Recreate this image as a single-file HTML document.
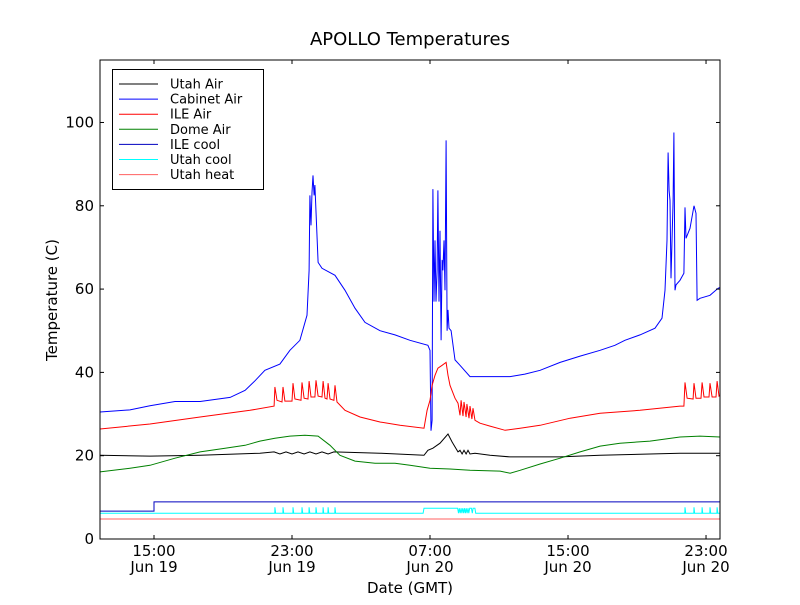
<!DOCTYPE html>
<html><head><meta charset="utf-8"><style>
body{margin:0;background:#fff;width:800px;height:600px;overflow:hidden}
svg{font-family:"DejaVu Sans","Liberation Sans",sans-serif}
</style></head><body>
<svg id="chart" width="800" height="600" xmlns="http://www.w3.org/2000/svg">
<rect width="800" height="600" fill="#fff"/>
<text x="410" y="45" font-size="18" text-anchor="middle">APOLLO Temperatures</text>
<text x="410" y="593" font-size="15" text-anchor="middle">Date (GMT)</text>
<text transform="translate(57,300) rotate(-90)" font-size="15" text-anchor="middle">Temperature (C)</text>
<defs><clipPath id="clip"><rect x="100" y="60" width="620" height="479"/></clipPath></defs>
<g id="series" clip-path="url(#clip)"></g>
<g id="axes"></g>
<g id="legend"></g>
</svg>
<script>
const xTickT=[0,8,16,24,32];
const xTickTop=["15:00","23:00","07:00","15:00","23:00"];
const xTickBottom=["Jun 19","Jun 19","Jun 20","Jun 20","Jun 20"];
const yTicks=[0,20,40,60,80,100];
const cabT=[-3.13,-1.39,-0.23,1.22,2.67,4.41,5.28,5.86,6.43,7.3,7.88,8.46,8.87,8.99,9.04,9.1,9.16,9.22,9.28,9.33,9.51,9.74,10.49,11.07,11.65,12.23,13.1,13.97,14.84,15.88,16,16.06,16.12,16.17,16.23,16.29,16.35,16.41,16.46,16.52,16.58,16.64,16.7,16.75,16.81,16.87,16.93,16.99,17.04,17.1,17.22,17.45,17.74,18.32,19.48,20.64,21.5,22.38,23.54,24.7,25.86,26.72,27.3,28.17,29.04,29.45,29.62,29.74,29.8,29.86,29.91,29.97,30.09,30.14,30.2,30.26,30.49,30.72,30.78,30.84,31.07,31.3,31.42,31.48,31.65,32.23,32.7,32.81];
const cabV=[30.5,31,32,33,33,34,35.7,38,40.5,42,45.3,47.7,53.7,64.5,82.5,75.3,83.2,87.3,82.5,85,66.4,65,63.3,59.7,55.4,52,50,49,47.7,46.5,45.3,26,28.5,84,57,71.7,57,64.5,83.7,57,74,47.7,67,64.5,71.7,59.7,95.7,50,55,50.6,50,43,41.7,39,39,39,39.6,40.5,42.4,43.9,45.3,46.5,47.7,49,50.6,53,59.7,71.7,92.8,83.7,81.3,62.6,81.3,97.6,59.7,61,62.1,63.8,79.6,72.2,74.6,80,78.2,57.3,57.8,58.5,60.2,60.4];
const ileT=[-3.13,-0.23,2.67,5.57,6.96,7.01,7.13,7.42,7.48,7.59,8.0,8.06,8.17,8.52,8.58,8.7,8.93,8.99,9.1,9.33,9.39,9.51,9.74,9.8,9.91,10.03,10.09,10.2,10.43,10.49,10.61,11.07,11.94,13.1,14.26,15.65,15.83,16.0,16.12,16.29,16.46,16.7,16.93,17.04,17.16,17.45,17.62,17.74,17.8,17.91,17.97,18.09,18.14,18.26,18.32,18.43,18.49,18.61,18.9,19.48,20.35,21.22,22.38,24.12,25.86,28.17,30.49,30.72,30.78,30.9,31.25,31.3,31.42,31.71,31.77,31.88,32.17,32.23,32.35,32.58,32.64,32.75,32.81];
const ileV=[26.4,27.6,29.3,30.9,31.9,36.5,33.3,32.9,36.5,33.1,33.1,37.4,33.6,33.3,37.6,33.8,33.6,37.9,34.1,34.1,38.1,34.3,34.1,37.9,33.8,33.6,37.4,33.6,33.3,36.9,32.9,30.9,29.3,28.1,27.3,26.6,30.9,33.3,36.9,39.3,41.0,41.7,42.4,39.3,36.9,33.8,32.6,29.7,33.3,29.5,32.9,29.3,32.4,29.0,31.9,28.8,31.4,28.5,27.8,27.1,26.1,26.6,27.3,29.0,30.2,30.9,31.9,31.9,37.6,33.8,33.6,37.4,33.8,33.8,37.6,34.1,34.1,37.4,34.1,34.1,37.9,34.3,34.5];
const domeT=[-3.13,-1.39,-0.23,1.22,2.67,4.12,5.28,6.14,7.01,7.88,8.75,9.51,10.2,10.78,11.65,12.81,13.97,14.84,16.0,17.16,18.32,20.06,20.64,21.22,22.38,23.54,24.7,25.86,27.01,28.75,30.49,31.65,32.81];
const domeV=[16.1,17.0,17.7,19.4,20.9,21.8,22.5,23.5,24.2,24.7,24.9,24.7,22.5,20.1,18.7,18.2,18.2,17.7,17.0,16.8,16.5,16.3,15.8,16.5,18.0,19.4,20.9,22.3,23.0,23.5,24.5,24.7,24.5];
const utahT=[-3.13,-0.23,2.67,6.14,6.96,7.3,7.65,8.0,8.35,8.7,9.04,9.39,9.74,10.09,10.43,13.1,15.65,15.88,16.17,16.58,17.04,17.28,17.62,17.74,17.86,17.97,18.09,18.2,18.32,18.61,19.48,20.64,23.54,25.86,28.75,30.49,32.81];
const utahV=[20.1,19.9,20.1,20.6,20.9,20.4,20.9,20.4,20.9,20.4,20.9,20.4,20.9,20.4,20.9,20.6,20.1,21.3,21.8,23.0,25.2,23.3,20.9,21.3,20.4,21.3,20.4,21.3,20.4,20.6,20.1,19.7,19.7,20.1,20.4,20.6,20.6];
const ileCoolT=[-3.13,0,0,32.81];
const ileCoolV=[6.7,6.7,8.9,8.9];
const utahCoolT=[-3.13,7.0,7.01,7.05,7.47,7.48,7.52,8.05,8.06,8.1,8.57,8.58,8.62,8.98,8.99,9.03,9.38,9.39,9.43,9.79,9.8,9.84,10.08,10.09,10.13,10.48,10.49,10.53,15.6,15.65,17.6,17.65,17.7,17.75,17.8,17.85,17.9,17.95,18.0,18.05,18.1,18.15,18.2,18.25,18.3,18.4,18.45,18.5,18.6,18.65,30.77,30.78,30.82,31.29,31.3,31.34,31.76,31.77,31.81,32.22,32.23,32.27,32.63,32.64,32.68,32.81];
const utahCoolV=[6.2,6.2,7.6,6.2,6.2,7.6,6.2,6.2,7.6,6.2,6.2,7.6,6.2,6.2,7.6,6.2,6.2,7.6,6.2,6.2,7.6,6.2,6.2,7.6,6.2,6.2,7.6,6.2,6.2,7.4,7.4,6.2,7.4,6.2,7.4,6.2,7.4,6.2,7.4,6.2,7.4,6.2,7.4,6.2,7.4,7.4,6.2,7.4,7.4,6.2,6.2,7.6,6.2,6.2,7.6,6.2,6.2,7.6,6.2,6.2,7.6,6.2,6.2,7.6,6.2,6.2];
const heatT=[-3.13,32.81];
const heatV=[4.8,4.8];

const X0=100,X1=720,Y0=539,Y1=60,tMin=-3.13,tMax=32.81,vMin=0,vMax=115;
const xs=t=>X0+(t-tMin)/(tMax-tMin)*(X1-X0);
const ys=v=>Y0-(v-vMin)/(vMax-vMin)*(Y0-Y1);
const NS="http://www.w3.org/2000/svg";
function mk(tag,attrs,parent){const e=document.createElementNS(NS,tag);for(const k in attrs)e.setAttribute(k,attrs[k]);parent.appendChild(e);return e;}
const sg=document.getElementById('series');
const series=[
 ["utah-air-line",utahT,utahV,"#000"],
 ["cabinet-air-line",cabT,cabV,"#0000ff"],
 ["ile-air-line",ileT,ileV,"#ff0000"],
 ["dome-air-line",domeT,domeV,"#008000"],
 ["ile-cool-line",ileCoolT,ileCoolV,"#0000bf"],
 ["utah-cool-line",utahCoolT,utahCoolV,"#00ffff"],
 ["utah-heat-line",heatT,heatV,"#ff6060"]];
series.forEach(s=>{
 const d=s[1].map((t,i)=>(i?'L':'M')+xs(t).toFixed(1)+','+ys(s[2][i]).toFixed(1)).join('');
 const p=mk('path',{d:d,fill:'none',stroke:s[3],'stroke-width':1},sg);
 
 
});
const ax=document.getElementById('axes');
const frame=mk('rect',{x:X0,y:Y1,width:X1-X0,height:Y0-Y1,fill:'none',stroke:'#000','stroke-width':1},ax);


xTickT.forEach((t,i)=>{
 const x=xs(t);
 mk('line',{x1:x,x2:x,y1:Y0,y2:Y0-4,stroke:'#000'},ax);
 mk('line',{x1:x,x2:x,y1:Y1,y2:Y1+4,stroke:'#000'},ax);
 const a=mk('text',{x:x,y:556,'font-size':15,'text-anchor':'middle'},ax);a.textContent=xTickTop[i];
 
 
 const b=mk('text',{x:x,y:572,'font-size':15,'text-anchor':'middle'},ax);b.textContent=xTickBottom[i];
 
 
});
yTicks.forEach(v=>{
 const y=ys(v);
 mk('line',{x1:X0,x2:X0+4,y1:y,y2:y,stroke:'#000'},ax);
 mk('line',{x1:X1,x2:X1-4,y1:y,y2:y,stroke:'#000'},ax);
 const a=mk('text',{x:94,y:y+5,'font-size':15,'text-anchor':'end'},ax);a.textContent=v;
 
 
});
const lg=document.getElementById('legend');
mk('rect',{x:112.5,y:69.5,width:151,height:120,fill:'#fff',stroke:'#000'},lg);
const names=["Utah Air","Cabinet Air","ILE Air","Dome Air","ILE cool","Utah cool","Utah heat"];
names.forEach((n,i)=>{
 const y=84+i*15.1;
 mk('line',{x1:119,x2:158,y1:y,y2:y,stroke:series[i][3]},lg);
 const t=mk('text',{x:170,y:y+4.5,'font-size':13},lg);t.textContent=n;
 
 
});
</script>
</body></html>
